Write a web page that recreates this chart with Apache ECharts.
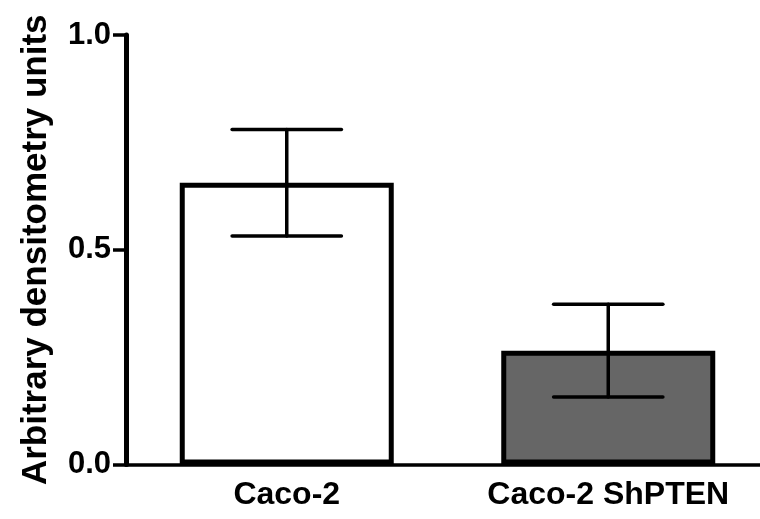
<!DOCTYPE html>
<html>
<head>
<meta charset="utf-8">
<script src="https://cdn.jsdelivr.net/npm/echarts@6/dist/echarts.min.js"></script>
<style>
  html, body { margin: 0; padding: 0; background: #fff; }
  #chart { width: 760px; height: 519px; }
</style>
</head>
<body>
<div id="chart"></div>
<script>
// Densitometry of the two cell lines: mean ± error
const categories = ['Caco-2', 'Caco-2 ShPTEN'];
const means = [0.656, 0.265];
const errors = [0.124, 0.108];
const fills = ['#ffffff', '#666666'];
const yTicks = { min: 0, max: 1, interval: 0.5 };

const FONT = "'Liberation Sans', Arial, Helvetica, sans-serif";

const chart = echarts.init(document.getElementById('chart'));

const errorData = categories.map((c, i) => [i, means[i] - errors[i], means[i] + errors[i]]);

chart.setOption({
  animation: false,
  grid: { left: 126, top: 35, bottom: 54.5, width: 643, containLabel: false, outerBoundsMode: 'none' },
  xAxis: {
    type: 'category',
    data: categories,
    axisLine: { lineStyle: { color: '#000', width: 3.5 } },
    axisTick: { alignWithLabel: true, length: 11, lineStyle: { color: '#000', width: 3.5 } },
    axisLabel: { color: '#000', fontFamily: FONT, fontWeight: 'bold', fontSize: 32, margin: 15 }
  },
  yAxis: {
    type: 'value',
    min: yTicks.min,
    max: yTicks.max,
    interval: yTicks.interval,
    name: 'Arbitrary densitometry units',
    nameLocation: 'middle',
    nameGap: 72,
    nameTextStyle: { color: '#000', fontFamily: FONT, fontWeight: 'bold', fontSize: 35 },
    splitLine: { show: false },
    axisLine: { show: true, lineStyle: { color: '#000', width: 5 } },
    axisTick: { show: true, length: 13, lineStyle: { color: '#000', width: 3.5 } },
    axisLabel: {
      color: '#000', fontFamily: FONT, fontWeight: 'bold', fontSize: 31, margin: 15,
      formatter: v => v.toFixed(1)
    }
  },
  series: [
    {
      type: 'bar',
      barWidth: 214,
      data: means.map((v, i) => ({
        value: v,
        itemStyle: { color: fills[i], borderColor: '#000', borderWidth: 5 }
      })),
      z: 2
    },
    {
      type: 'custom',
      z: 3,
      data: errorData,
      renderItem: function (params, api) {
        const x = api.value(0);
        const lo = api.coord([x, api.value(1)]);
        const hi = api.coord([x, api.value(2)]);
        const half = api.size([1, 0])[0] * 0.17;
        const style = { stroke: '#000', lineWidth: 3.5, lineCap: 'round' };
        return {
          type: 'group',
          children: [
            { type: 'line', shape: { x1: hi[0], y1: hi[1], x2: lo[0], y2: lo[1] }, style: style },
            { type: 'line', shape: { x1: hi[0] - half, y1: hi[1], x2: hi[0] + half, y2: hi[1] }, style: style },
            { type: 'line', shape: { x1: lo[0] - half, y1: lo[1], x2: lo[0] + half, y2: lo[1] }, style: style }
          ]
        };
      }
    }
  ]
});
</script>
</body>
</html>
